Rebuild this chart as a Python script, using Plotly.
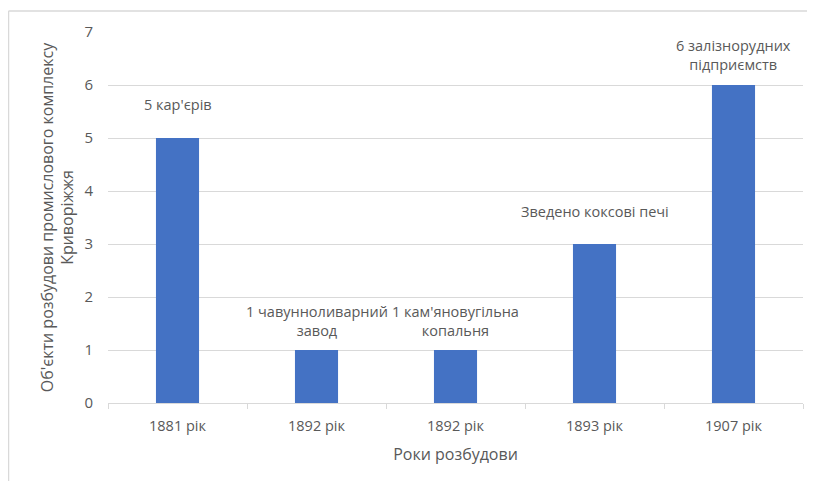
import plotly.graph_objects as go

categories = ["1881 рік", "1892 рік", "1892 рік", "1893 рік", "1907 рік"]
values = [5, 1, 1, 3, 6]
labels = ["5 кар'єрів", "1 чавунноливарний<br>завод", "1 кам'яновугільна<br>копальня",
          "Зведено коксові печі", "6 залізнорудних<br>підприємств"]
y_title = "Об'єкти розбудови промислового комплексу<br>Криворіжжя"
x_title = "Роки розбудови"

label_shift = [22, 8, 8, 21, 9]

FONT = "Open Sans"
GREY = "#595959"
GRID = "#D9D9D9"

idx = list(range(len(categories)))

fig = go.Figure()
fig.add_trace(go.Bar(x=idx, y=values, marker=dict(color="#4472C4", line=dict(width=0)),
                     hoverinfo="skip"))

for i, (v, t) in enumerate(zip(values, labels)):
    fig.add_annotation(x=i, y=v, text=t, showarrow=False, yanchor="bottom", xanchor="center",
                       yshift=label_shift[i], font=dict(family=FONT, size=14.5, color=GREY))

# page body has an 8px offset
W, H = 807, 473
L, R, T, B = 100, 12, 24, 78
pw, ph = W - L - R, H - T - B
fx = (0.5 - L) / pw
fy = 1 + (T - 3) / ph
fig.add_shape(type="line", xref="paper", yref="paper", x0=fx, x1=1.2, y0=fy, y1=fy,
              line=dict(color=GRID, width=1.5))
fig.add_shape(type="line", xref="paper", yref="paper", x0=fx, x1=fx, y0=fy, y1=-0.5,
              line=dict(color=GRID, width=1.5))

fig.update_layout(
    width=W, height=H,
    margin=dict(l=L, r=R, t=T, b=B),
    paper_bgcolor="white", plot_bgcolor="white",
    bargap=0.69, showlegend=False,
    font=dict(family=FONT, color=GREY, size=14),
    xaxis=dict(type="category", tickmode="array", tickvals=idx, ticktext=categories,
               tickson="boundaries", ticks="outside", ticklen=5, tickcolor=GRID,
               showline=True, linecolor=GRID, linewidth=1, showgrid=False,
               tickfont=dict(family=FONT, size=14.5, color=GREY), ticklabelstandoff=10,
               title=dict(text=x_title, font=dict(family=FONT, size=16, color=GREY), standoff=14)),
    yaxis=dict(range=[0, 7], dtick=1, showgrid=True, gridcolor=GRID, gridwidth=1,
               zeroline=False, showline=False, ticks="", ticklabelstandoff=14,
               tickfont=dict(family=FONT, size=15, color=GREY),
               title=dict(text=y_title, font=dict(family=FONT, size=16, color=GREY), standoff=6)),
)

fig.write_html("out.html", config={"displayModeBar": False})
